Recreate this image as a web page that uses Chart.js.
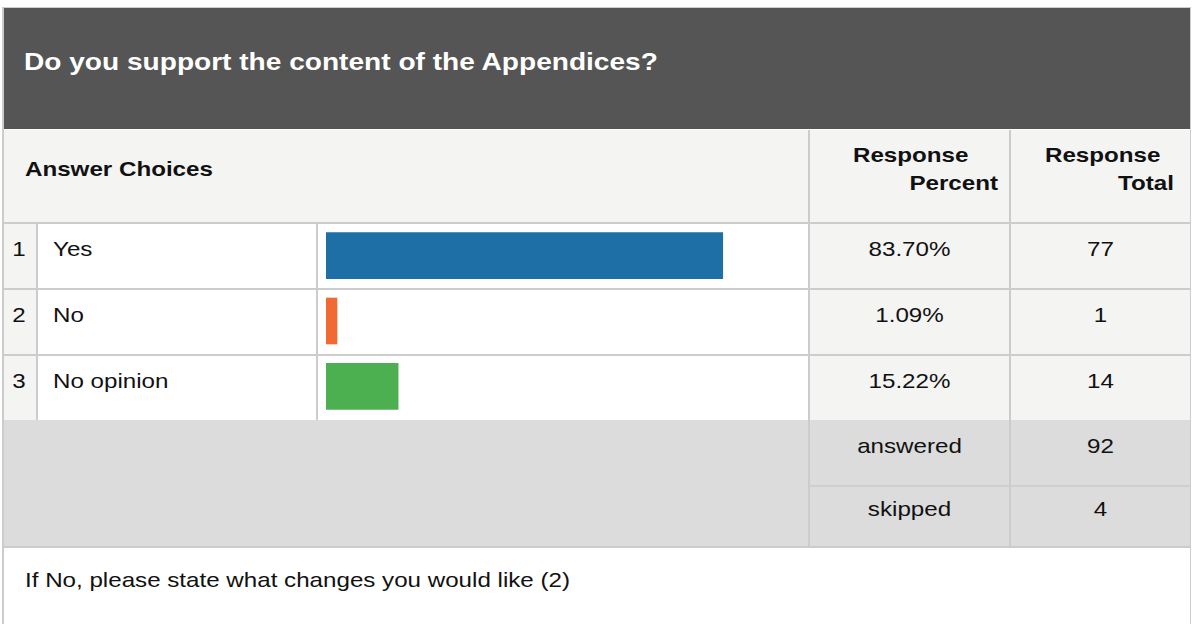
<!DOCTYPE html>
<html>
<head>
<meta charset="utf-8">
<script src="https://cdn.jsdelivr.net/npm/chart.js@4"></script>
<style>
body { margin:0; width:1192px; height:624px; background:#fff; font-family:"Liberation Sans", Arial, sans-serif; color:#111; overflow:hidden; position:relative; }
.b { position:absolute; }
.t { position:absolute; white-space:nowrap; font-size:21px; line-height:24px; transform:scaleX(1.15); transform-origin:left center; }
.c { text-align:center; transform-origin:center center; }
.r { text-align:right; transform-origin:right center; }
</style>
</head>
<body>
<div id="page"></div>
<script>
// survey question data
const question = "Do you support the content of the Appendices?";
const categories = ["Yes", "No", "No opinion"];
const percents = [83.70, 1.09, 15.22];
const totals = [77, 1, 14];
const answered = 92;
const skipped = 4;
const barColors = ["#1d6fa5", "#f26a33", "#4caf50"];
const followUp = "If No, please state what changes you would like (2)";

const page = document.getElementById("page");
function box(x, y, w, h, bg){
    let d = document.createElement("div");
    d.className = "b";
    d.style.cssText = "left:"+x+"px;top:"+y+"px;width:"+w+"px;height:"+h+"px;background:"+bg;
    page.appendChild(d);
    return d;
}
function txt(s, x, y, w, cls, extra){
    let d = document.createElement("div");
    d.className = "t " + (cls||"");
    d.style.cssText = "left:"+x+"px;top:"+y+"px;"+(w ? "width:"+w+"px;" : "")+(extra||"");
    d.textContent = s;
    page.appendChild(d);
    return d;
}

const line = "#cccccc";
// outer frame
box(2, 7, 1189, 617, line);
box(4, 8, 1186, 616, "#fff");
// dark title band
box(4, 8, 1186, 121, "#545554");
// header row
box(4, 130, 1186, 92, "#f4f4f3");
box(4, 222, 1186, 2, line);
// answer rows
const rowTop = 224, rowH = 66;
for (let i = 0; i < categories.length; i++){
    let y = rowTop + i*rowH;
    box(4, y, 32, rowH-2, "#f4f4f3");
    box(810, y, 380, rowH-2, "#f4f4f3");
    box(4, y+rowH-2, 1186, 2, line);
}
// summary block
box(4, 420, 1186, 126, "#dcdcdc");
box(4, 546, 1186, 2, line);
box(810, 485, 380, 2, "#cfcfcf");
// column dividers
box(36, 224, 2, 196, line);
box(316, 224, 2, 196, line);
box(808, 130, 2, 416, line);
box(1009, 130, 2, 416, line);

// texts
txt(question, 24, 47, 0, "", "color:#fff;font-weight:bold;font-size:24px;line-height:30px;transform:scaleX(1.17);");
txt("Answer Choices", 25, 157, 0, "", "font-weight:bold;");
txt("Response", 853, 143, 0, "", "font-weight:bold;");
txt("Percent", 700, 171, 298, "r", "font-weight:bold;");
txt("Response", 1045, 143, 0, "", "font-weight:bold;");
txt("Total", 900, 171, 274, "r", "font-weight:bold;");
for (let i = 0; i < categories.length; i++){
    let y = rowTop + i*rowH + 13;
    txt(String(i+1), 4, y, 30, "c");
    txt(categories[i], 53, y, 0, "");
    txt(percents[i].toFixed(2) + "%", 810, y, 199, "c");
    txt(String(totals[i]), 1011, y, 179, "c");
}
txt("answered", 810, 434, 199, "c");
txt(String(answered), 1011, 434, 179, "c");
txt("skipped", 810, 497, 199, "c");
txt(String(skipped), 1011, 497, 179, "c");
txt(followUp, 25, 568, 0, "");

// bar chart over the bar column
const wrap = document.createElement("div");
wrap.className = "b";
wrap.style.cssText = "left:318px;top:223px;width:490px;height:196px;";
wrap.innerHTML = '<canvas id="bars"></canvas>';
page.appendChild(wrap);

new Chart(document.getElementById("bars").getContext("2d"), {
    type: "bar",
    data: {
        labels: categories,
        datasets: [{
            data: percents,
            backgroundColor: barColors,
            borderWidth: 0,
            barThickness: 46,
            minBarLength: 11
        }]
    },
    options: {
        indexAxis: "y",
        responsive: true,
        maintainAspectRatio: false,
        animation: false,
        layout: { padding: { left: 8, right: 8, top: 0, bottom: 0 } },
        plugins: { legend: { display: false }, tooltip: { enabled: false } },
        scales: {
            x: { display: false, min: 0, max: 100 },
            y: { display: false }
        }
    }
});
</script>
</body>
</html>
